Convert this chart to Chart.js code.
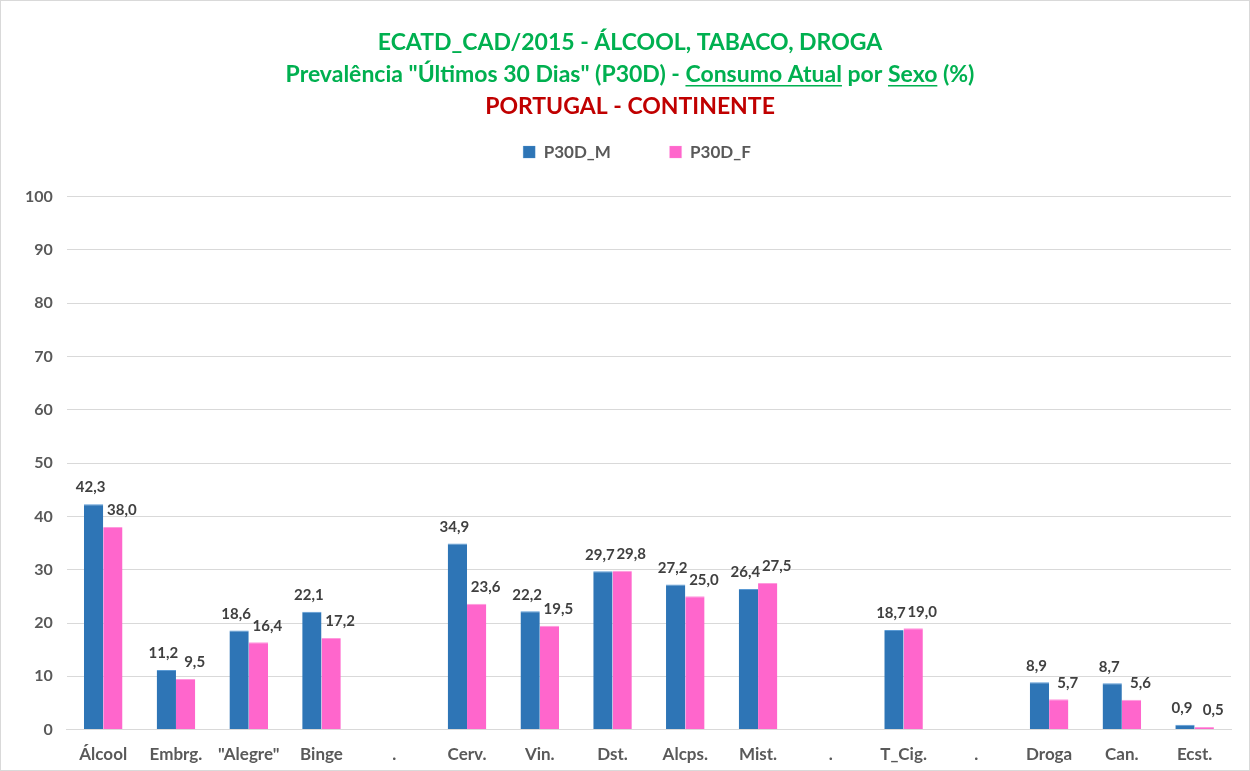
<!DOCTYPE html>
<html>
<head>
<meta charset="utf-8">
<script src="https://cdn.jsdelivr.net/npm/chart.js@4"></script>
<style>
  body { margin: 0; background: #fff; }
  #wrap { position: relative; width: 1248px; height: 769px; border: 1px solid #d9d9d9; }
</style>
</head>
<body>
<div id="wrap"><canvas id="chart"></canvas></div>
<script>
// Data
const categories = ['Álcool', 'Embrg.', '"Alegre"', 'Binge', '.', 'Cerv.', 'Vin.', 'Dst.', 'Alcps.', 'Mist.', '.', 'T_Cig.', '.', 'Droga', 'Can.', 'Ecst.'];
const maleValues = [42.3, 11.2, 18.6, 22.1, null, 34.9, 22.2, 29.7, 27.2, 26.4, null, 18.7, null, 8.9, 8.7, 0.9];
const femaleValues = [38.0, 9.5, 16.4, 17.2, null, 23.6, 19.5, 29.8, 25.0, 27.5, null, 19.0, null, 5.7, 5.6, 0.5];
const seriesNames = ['P30D_M', 'P30D_F'];
const titleLines = ['ECATD_CAD/2015 - ÁLCOOL, TABACO, DROGA', 'Prevalência "Últimos 30 Dias" (P30D) - Consumo Atual por Sexo (%)'];
const subtitleText = 'PORTUGAL - CONTINENTE';
const underlined = ['Consumo Atual', 'Sexo'];

const FONT = 'Lato, "Open Sans", sans-serif';
const GREEN = '#00b050';
const GREY = '#595959';

// value labels above each bar (comma decimal), nudged apart a little
const valueLabels = {
    id: 'valueLabels',
    afterDatasetsDraw(chart) {
        const ctx = chart.ctx;
        ctx.save();
        ctx.font = 'bold 15px ' + FONT;
        ctx.fillStyle = '#404040';
        ctx.textAlign = 'center';
        ctx.textBaseline = 'bottom';
        chart.data.datasets.forEach((ds, i) => {
            const dx = i === 0 ? -3 : 9;
            chart.getDatasetMeta(i).data.forEach((bar, j) => {
                const v = ds.data[j];
                if (v === null) return;
                ctx.fillText(v.toFixed(1).replace('.', ','), bar.x + dx, bar.y - 9);
            });
        });
        ctx.restore();
    }
};

// move title and legend a bit to the right, like the original
const shiftBoxes = {
    id: 'shiftBoxes',
    afterLayout(chart) {
        chart.boxes.forEach(b => {
            if (b === chart.legend) {
                b.left += 16; b.right += 16;
            } else if (b.options && b.options.text !== undefined) {
                b.left += 9; b.right += 9;
            }
        });
    }
};

// underline some words of the second title line
const titleUnderline = {
    id: 'titleUnderline',
    afterDraw(chart) {
        const tb = chart.titleBlock;
        const opts = chart.options.plugins.title;
        const ctx = chart.ctx;
        ctx.save();
        ctx.font = 'bold ' + opts.font.size + 'px ' + FONT;
        const line = titleLines[1];
        const full = ctx.measureText(line).width;
        const cx = (tb.left + tb.right) / 2;
        const startX = cx - full / 2;
        const lh = opts.font.size * opts.font.lineHeight;
        const y = tb.top + opts.padding.top + lh * 1.5 + opts.font.size * 0.5;
        ctx.strokeStyle = GREEN;
        ctx.lineWidth = 1.5;
        underlined.forEach(word => {
            const idx = line.indexOf(word);
            const x0 = startX + ctx.measureText(line.slice(0, idx)).width;
            const w = ctx.measureText(word).width;
            ctx.beginPath();
            ctx.moveTo(x0, y);
            ctx.lineTo(x0 + w, y);
            ctx.stroke();
        });
        ctx.restore();
    }
};

const ctx = document.getElementById('chart').getContext('2d');
new Chart(ctx, {
    type: 'bar',
    data: {
        labels: categories,
        datasets: [{
            label: seriesNames[0],
            data: maleValues,
            backgroundColor: '#2e75b6',
            borderColor: '#5b9bd5',
            borderWidth: { top: 1, left: 0, right: 0, bottom: 0 }
        }, {
            label: seriesNames[1],
            data: femaleValues,
            backgroundColor: '#ff66cc',
            borderColor: '#ff99dd',
            borderWidth: { top: 1, left: 0, right: 0, bottom: 0 }
        }]
    },
    options: {
        responsive: true,
        maintainAspectRatio: false,
        animation: false,
        layout: { padding: { left: 10, right: 18, top: 21, bottom: -10 } },
        datasets: { bar: { categoryPercentage: 0.53, barPercentage: 1.0 } },
        plugins: {
            title: {
                display: true,
                text: titleLines,
                color: GREEN,
                font: { family: FONT, size: 23, weight: 'bold', lineHeight: 1.4 },
                padding: { top: 4, bottom: 0 }
            },
            subtitle: {
                display: true,
                text: subtitleText,
                color: '#c00000',
                font: { family: FONT, size: 23, weight: 'bold', lineHeight: 1.4 },
                padding: { top: 0, bottom: 9 }
            },
            legend: {
                position: 'top',
                labels: {
                    boxWidth: 12,
                    boxHeight: 12,
                    padding: 12,
                    color: GREY,
                    font: { family: FONT, size: 17, weight: 'bold' },
                    // pad the first entry so the two sit apart like the original
                    generateLabels(chart) {
                        const items = Chart.defaults.plugins.legend.labels.generateLabels(chart);
                        items[0].text += '\u2003\u2003\u2003\u2002';
                        return items;
                    }
                }
            },
            tooltip: { enabled: false }
        },
        scales: {
            // empty axis on top, only used as spacing below the legend
            spacer: {
                type: 'category',
                position: 'top',
                grid: { display: false, drawTicks: false },
                border: { display: false },
                ticks: { display: false },
                afterFit(scale) { scale.height = 26; }
            },
            x: {
                grid: { display: false, drawTicks: false },
                border: { color: '#d9d9d9' },
                ticks: {
                    color: GREY,
                    font: { family: FONT, size: 17, weight: 'bold' },
                    maxRotation: 0,
                    autoSkip: false,
                    padding: 15
                }
            },
            y: {
                min: 0,
                max: 100,
                ticks: {
                    stepSize: 10,
                    color: GREY,
                    font: { family: FONT, size: 16, weight: 'bold' },
                    padding: 14
                },
                grid: { color: '#d9d9d9', drawTicks: false },
                border: { display: false }
            }
        }
    },
    plugins: [valueLabels, shiftBoxes, titleUnderline]
});
</script>
</body>
</html>
